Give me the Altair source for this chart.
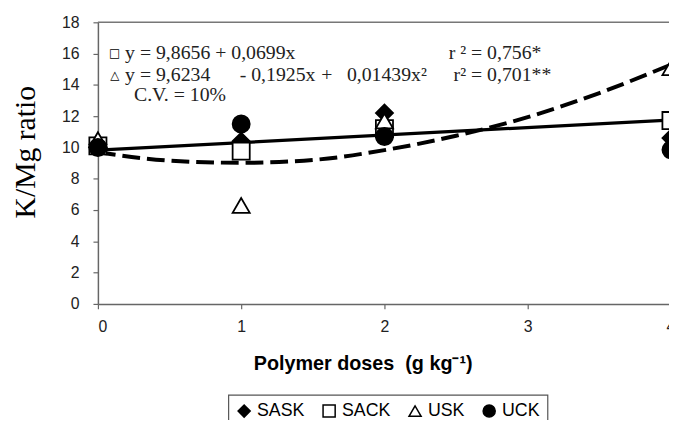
import altair as alt
import pandas as pd

# ---- data ----
doses = [0, 1, 2, 4]
series = ["SASK", "SACK", "USK", "UCK"]
sask = [10.2, 10.4, 12.2, 10.6]
sack = [10.1, 9.77, 11.2, 11.72]
usk = [10.5, 6.3, 11.7, 15.1]
uck = [10.0, 11.5, 10.7, 9.85]

linear_x = [0, 4]
linear_y = [9.83, 11.76]
quad_x = [0, 0.5, 1, 1.5, 2, 2.5, 3, 3.5, 4]
quad_y = [9.69, 9.16, 9.02, 9.2, 9.83, 10.75, 11.94, 13.48, 15.3]

x_ticks = [0, 1, 2, 3]
y_ticks = [0, 2, 4, 6, 8, 10, 12, 14, 16, 18]

# annotation texts
ann_sym = ["\u25a1", "\u25b3"]
ann_lines = [
    "y = 9,8656 + 0,0699x",
    "y = 9,6234",
    "- 0,1925x",
    "+",
    "0,01439x\u00b2",
    "C.V. = 10%",
    "r \u00b2 = 0,756*",
    "r\u00b2 = 0,701**",
]

# ---- build tables ----
vals = {"SASK": sask, "SACK": sack, "USK": usk, "UCK": uck}
pts = pd.DataFrame(
    [{"x": d, "y": v, "series": s} for s in series for d, v in zip(doses, vals[s])]
)
lin = pd.DataFrame({"x": linear_x, "y": linear_y})
quad = pd.DataFrame({"x": quad_x, "y": quad_y})
top = pd.DataFrame({"x": [0], "x2": [4], "y": [18]})
four = pd.DataFrame({"x": [4], "t": ["4"]})

W, H = 578, 285
XMAX = 4 * W / 580.0

x_enc = alt.X(
    "x:Q",
    scale=alt.Scale(domain=[0, XMAX], nice=False, zero=False),
    axis=alt.Axis(
        values=x_ticks, title="Polymer doses\u00a0\u00a0(g kg\u207b\u00b9)", grid=False,
        labelFont="Liberation Sans", labelFontSize=16, labelColor="#222",
        labelPadding=10, tickSize=5, tickColor="#666", domainColor="#666",
        domainWidth=1.5, tickWidth=1.2,
        titleFont="Liberation Sans", titleFontSize=20, titleFontWeight="bold",
        titleColor="black", titleX=268, titleY=60, titleAlign="center",
        titleBaseline="middle", titleAnchor="start",
    ),
)
y_enc = alt.Y(
    "y:Q",
    scale=alt.Scale(domain=[0, 18], nice=False),
    axis=alt.Axis(
        values=y_ticks, title="K/Mg ratio", grid=False,
        labelFont="Liberation Sans", labelFontSize=16, labelColor="#222",
        labelPadding=14, tickSize=5, tickColor="#666", domainColor="#666",
        domainWidth=1.5, tickWidth=1.2,
        titleFont="Liberation Serif", titleFontSize=30, titleFontWeight="normal",
        titleColor="black", titleX=-73, titleY=131, titleAlign="center",
        titleBaseline="middle", titleAnchor="start",
    ),
)

top_rule = alt.Chart(top).mark_rule(color="#777", strokeWidth=1.5).encode(
    x=x_enc, x2="x2:Q", y=y_enc
)
lin_line = alt.Chart(lin).mark_line(color="black", strokeWidth=3.3).encode(x=x_enc, y=y_enc)
quad_line = alt.Chart(quad).mark_line(
    color="black", strokeWidth=4, strokeDash=[18, 7], interpolate="monotone"
).encode(x=x_enc, y=y_enc)

points = alt.Chart(pts).mark_point(
    filled=True, size=300, strokeWidth=1.8, opacity=1
).encode(
    x=x_enc,
    y=y_enc,
    shape=alt.Shape(
        "series:N",
        scale=alt.Scale(domain=series, range=["diamond", "square", "triangle-up", "circle"]),
        legend=alt.Legend(title=None),
    ),
    fill=alt.Fill(
        "series:N",
        scale=alt.Scale(domain=series, range=["black", "white", "white", "black"]),
        legend=alt.Legend(title=None),
    ),
    stroke=alt.Stroke(
        "series:N",
        scale=alt.Scale(domain=series, range=["black", "black", "black", "black"]),
        legend=alt.Legend(title=None),
    ),
    order=alt.Order("series_order:Q"),
).transform_calculate(
    series_order="indexof(['SASK','SACK','USK','UCK'], datum.series)"
)

four_label = alt.Chart(four).mark_text(
    font="Liberation Sans", fontSize=16, color="#222", baseline="top", align="center"
).encode(x=x_enc, y=alt.value(H + 15), text="t:N")

# annotation layout (pixels within the plot area)
ann_pos = [
    (27.5, 31),
    (27.5, 53), (143.5, 53), (226, 53), (252, 53),
    (36.5, 74),
    (355, 31), (360, 53),
]
sym_pos = [(17, 31), (17, 53)]

dummy = pd.DataFrame({"a": [0]})
ann_layers = []
for t, (px, py) in zip(ann_lines, ann_pos):
    ann_layers.append(
        alt.Chart(dummy).mark_text(
            font="Liberation Serif", fontSize=20, color="#222", align="left", baseline="middle"
        ).encode(x=alt.value(px), y=alt.value(py), text=alt.value(t))
    )
for t, (px, py) in zip(ann_sym, sym_pos):
    ann_layers.append(
        alt.Chart(dummy).mark_text(
            font="DejaVu Sans", fontSize=12, fontWeight="bold", color="black",
            align="center", baseline="middle"
        ).encode(x=alt.value(px), y=alt.value(py), text=alt.value(t))
    )

chart = alt.layer(top_rule, lin_line, quad_line, points, four_label, *ann_layers).properties(
    width=W,
    height=H,
    autosize=alt.AutoSizeParams(type="none"),
    padding={"left": 91, "top": 12, "right": 0, "bottom": 115},
    background="white",
).configure_view(stroke=None).configure_legend(
    orient="none", legendX=132, legendY=377, direction="horizontal", columns=4,
    padding=7, strokeColor="#555", fillColor="white", strokeWidth=1.2,
    symbolSize=150, symbolStrokeWidth=1.5,
    labelFont="Liberation Sans", labelFontSize=18, labelColor="black",
    labelOffset=4, columnPadding=14, symbolOpacity=1,
)

chart.save("out.html", embed_options={"renderer": "svg", "actions": False})
